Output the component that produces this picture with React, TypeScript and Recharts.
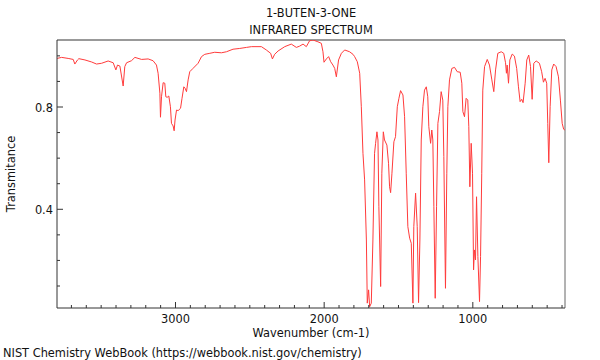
import React from 'react';
import { LineChart, Line, XAxis, YAxis, ReferenceLine } from 'recharts';

const wavenumbers = [
  3796, 3766, 3722, 3688, 3677, 3659, 3650, 3609, 3564, 3531, 3497, 3453, 3419, 3401, 3390, 3374,
  3352, 3341, 3329, 3296, 3273, 3228, 3184, 3151, 3128, 3117, 3105, 3101, 3094, 3083, 3072, 3065,
  3056, 3045, 3034, 3027, 3016, 3009, 3003, 2993, 2982, 2966, 2956, 2944, 2935, 2926, 2915, 2904,
  2882, 2848, 2825, 2803, 2769, 2736, 2691, 2657, 2613, 2568, 2523, 2489, 2422, 2389, 2360, 2348,
  2333, 2310, 2265, 2221, 2187, 2165, 2142, 2120, 2098, 2075, 2042, 2019, 2008, 2001, 1985, 1970,
  1956, 1941, 1929, 1918, 1903, 1884, 1862, 1829, 1806, 1795, 1777, 1761, 1750, 1739, 1728, 1716,
  1710, 1701, 1694, 1683, 1672, 1661, 1654, 1645, 1638, 1632, 1620, 1612, 1602, 1594, 1578, 1567,
  1560, 1553, 1544, 1531, 1520, 1508, 1497, 1486, 1470, 1459, 1448, 1437, 1425, 1414, 1403, 1397,
  1385, 1374, 1365, 1356, 1347, 1336, 1325, 1313, 1303, 1296, 1284, 1276, 1269, 1262, 1253, 1244,
  1235, 1224, 1213, 1202, 1195, 1184, 1175, 1168, 1157, 1141, 1123, 1105, 1085, 1074, 1067, 1056,
  1045, 1034, 1027, 1020, 1011, 1002, 995, 989, 982, 975, 966, 955, 948, 940, 933, 921,
  903, 888, 872, 859, 847, 832, 809, 792, 780, 774, 769, 760, 751, 735, 720, 705,
  693, 682, 671, 662, 648, 637, 624, 612, 601, 590, 574, 552, 537, 525, 514, 503,
  496, 489, 480, 469, 456, 440, 424, 411, 399, 389, 381,
];

const transmittance = [
  0.99, 0.994, 0.99, 0.986, 0.968, 0.984, 0.989, 0.984, 0.976, 0.968, 0.971, 0.98, 0.973, 0.945, 0.964, 0.96,
  0.882, 0.958, 0.973, 0.981, 0.994, 0.986, 0.988, 0.981, 0.964, 0.932, 0.854, 0.76, 0.84, 0.895, 0.893, 0.84,
  0.838, 0.843, 0.801, 0.736, 0.726, 0.707, 0.749, 0.788, 0.786, 0.795, 0.834, 0.879, 0.873, 0.86, 0.906, 0.938,
  0.951, 0.971, 0.997, 1.006, 1.01, 1.014, 1.012, 1.016, 1.026, 1.029, 1.033, 1.036, 1.036, 1.023, 1.01, 0.988,
  1.006, 1.019, 1.036, 1.046, 1.033, 1.038, 1.046, 1.036, 1.059, 1.062, 1.055, 1.049, 1.016, 0.975, 0.988, 0.997,
  0.977, 0.964, 0.951, 0.918, 0.984, 1.01, 1.023, 1.016, 1.006, 0.997, 0.977, 0.932, 0.801, 0.619, 0.515, 0.28,
  0.033, 0.085, 0.019, 0.033, 0.28, 0.619, 0.658, 0.703, 0.671, 0.41, 0.098, 0.541, 0.703, 0.671, 0.651, 0.58,
  0.488, 0.465, 0.541, 0.664, 0.684, 0.801, 0.834, 0.864, 0.847, 0.762, 0.541, 0.332, 0.287, 0.267, 0.033, 0.332,
  0.463, 0.332, 0.035, 0.28, 0.671, 0.801, 0.866, 0.879, 0.84, 0.723, 0.658, 0.71, 0.671, 0.41, 0.052, 0.41,
  0.736, 0.782, 0.86, 0.827, 0.606, 0.091, 0.541, 0.801, 0.906, 0.951, 0.955, 0.938, 0.936, 0.893, 0.782, 0.762,
  0.834, 0.827, 0.723, 0.488, 0.658, 0.541, 0.163, 0.241, 0.202, 0.449, 0.215, 0.039, 0.215, 0.541, 0.866, 0.958,
  0.986, 0.964, 0.906, 0.86, 0.945, 1.01, 1.016, 1.01, 0.973, 0.932, 0.964, 0.893, 0.984, 1.007, 0.999, 0.951,
  0.879, 0.821, 0.83, 0.817, 0.893, 0.984, 1.003, 0.958, 0.83, 0.971, 0.98, 0.971, 0.938, 0.897, 0.912, 0.893,
  0.736, 0.582, 0.801, 0.945, 0.968, 0.958, 0.918, 0.827, 0.736, 0.713, 0.71,
];

const xTicks = [
  3700, 3600, 3500, 3400, 3300, 3200, 3100, 3000, 2900, 2800, 2700, 2600, 2500, 2400, 2300, 2200, 2100,
  2000, 1900, 1800, 1700, 1600, 1500, 1400, 1300, 1200, 1100, 1000, 900, 800, 700, 600, 500, 400,
];
const xLabels = [3000, 2000, 1000];
const yTicks = [0.1, 0.2, 0.3, 0.4, 0.5, 0.6, 0.7, 0.8, 0.9, 1.0];
const yLabels = [0.4, 0.8];

const X_DOMAIN: [number, number] = [380, 3797];
const Y_DOMAIN: [number, number] = [0.014, 1.062];

const data = wavenumbers.map((wn, i) => ({ wn, t: transmittance[i] }));

const FONT = "'DejaVu Sans', sans-serif";
const FS = 11.4;

const XTick = (props: any) => {
  const { x, y, payload } = props;
  const v = payload.value;
  const major = xLabels.includes(v);
  return (
    <g>
      <line x1={x} x2={x} y1={y} y2={y - (major ? 6 : 3)} stroke="#333" strokeWidth={1} />
      {major && (
        <text x={x} y={y + 15} textAnchor="middle" fontSize={FS} fill="#111" fontFamily={FONT}>
          {v}
        </text>
      )}
    </g>
  );
};

const YTick = (props: any) => {
  const { x, y, payload } = props;
  const v = payload.value;
  const major = yLabels.includes(v);
  return (
    <g>
      <line x1={x} x2={x + (major ? 6 : 3)} y1={y} y2={y} stroke="#333" strokeWidth={1} />
      {major && (
        <text x={x - 4} y={y + 4.5} textAnchor="end" fontSize={FS} fill="#111" fontFamily={FONT}>
          {v.toFixed(1)}
        </text>
      )}
    </g>
  );
};

export default function App() {
  return (
    <div style={{ position: 'absolute', left: 0, top: 0, width: 600, height: 360, fontFamily: FONT }}>
      <LineChart width={600} height={360} data={data} margin={{ top: 40, right: 35, bottom: 0, left: 0 }}>
        <XAxis
          dataKey="wn"
          type="number"
          domain={X_DOMAIN}
          reversed
          allowDataOverflow
          ticks={xTicks}
          interval={0}
          height={52}
          tickSize={0}
          tickMargin={0}
          tickLine={false}
          axisLine={{ stroke: '#333', strokeWidth: 1 }}
          tick={<XTick />}
        />
        <YAxis
          type="number"
          domain={Y_DOMAIN}
          allowDataOverflow
          ticks={yTicks}
          interval={0}
          width={57}
          tickSize={0}
          tickMargin={0}
          tickLine={false}
          axisLine={{ stroke: '#333', strokeWidth: 1 }}
          tick={<YTick />}
        />
        <ReferenceLine y={Y_DOMAIN[1]} stroke="#999" strokeWidth={2} ifOverflow="visible" />
        <ReferenceLine x={X_DOMAIN[0]} stroke="#666" strokeWidth={1} ifOverflow="visible" />
        <Line
          type="linear"
          dataKey="t"
          stroke="#ff3b3b"
          strokeWidth={1}
          dot={false}
          isAnimationActive={false}
        />
      </LineChart>
      <svg width={600} height={360} style={{ position: 'absolute', left: 0, top: 0, pointerEvents: 'none' }}>
        <text x={311} y={17} textAnchor="middle" fontSize={FS} fill="#111" fontFamily={FONT}>1-BUTEN-3-ONE</text>
        <text x={311} y={34} textAnchor="middle" fontSize={FS} fill="#111" fontFamily={FONT}>INFRARED SPECTRUM</text>
        <text x={311} y={337} textAnchor="middle" fontSize={FS} fill="#111" fontFamily={FONT}>Wavenumber (cm-1)</text>
        <text
          x={15}
          y={174}
          textAnchor="middle"
          fontSize={FS}
          fill="#111"
          fontFamily={FONT}
          transform="rotate(-90 15 174)"
        >
          Transmitance
        </text>
        <text x={3} y={357} fontSize={FS} fill="#111" fontFamily={FONT}>NIST Chemistry WebBook (https://webbook.nist.gov/chemistry)</text>
      </svg>
    </div>
  );
}
